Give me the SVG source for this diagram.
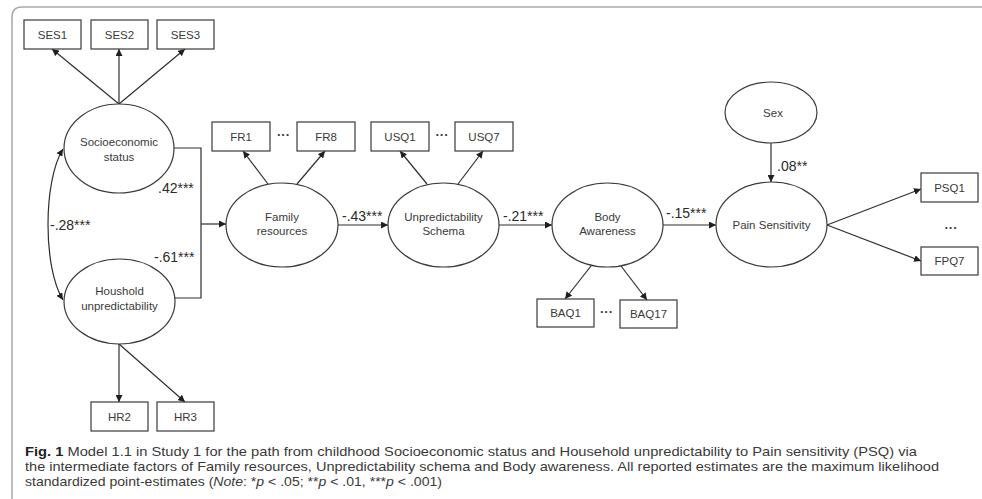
<svg xmlns="http://www.w3.org/2000/svg" width="982" height="499" viewBox="0 0 982 499">
  <style>
    .node ellipse, .node rect { fill: #fff; stroke: #3a3a3a; stroke-width: 1.2; }
    .lbl { font-family: "Liberation Sans", Arial, sans-serif; font-size: 11.5px; fill: #3a3a3a; text-anchor: middle; }
    .dots { font-family: "Liberation Sans", Arial, sans-serif; font-size: 13px; font-weight: bold; fill: #3a3a3a; text-anchor: middle; }
    .coef { font-family: "Liberation Sans", Arial, sans-serif; font-size: 14px; fill: #2a2a2a; }
    .edge { fill: none; stroke: #2e2e2e; stroke-width: 1.2; }
    .cap { font-family: "Liberation Sans", Arial, sans-serif; font-size: 13px; fill: #3a3a3a; }
  </style>
  <defs>
    <marker id="arrow" viewBox="0 0 10 10" refX="10" refY="5" markerWidth="7" markerHeight="7" markerUnits="userSpaceOnUse" orient="auto-start-reverse">
      <path d="M0,0 L10,5 L0,10 z" fill="#1f1f1f"/>
    </marker>
  </defs>

  <rect width="982" height="499" fill="#fff"/>
  <!-- figure frame -->
  <path d="M12,499 V17 Q12,7 22,7 H982" fill="none" stroke="#a8a8a8" stroke-width="1.5"/>

  <!-- connectors -->
  <g id="connectors">
    <path class="edge" marker-end="url(#arrow)" d="M119,104 L52,49"/>
    <path class="edge" marker-end="url(#arrow)" d="M119,104 L119,49"/>
    <path class="edge" marker-end="url(#arrow)" d="M119,104 L185,49"/>
    <path class="edge" marker-end="url(#arrow)" d="M119,344 L119,402"/>
    <path class="edge" marker-end="url(#arrow)" d="M119,344 L185,402"/>
    <path class="edge" marker-start="url(#arrow)" marker-end="url(#arrow)" d="M63,300 C43,268 43,181 63,149"/>
    <path class="edge" d="M174,148 H201 V298 H175"/>
    <path class="edge" marker-end="url(#arrow)" d="M201,224 H226"/>
    <path class="edge" marker-end="url(#arrow)" d="M268,184 L243,151"/>
    <path class="edge" marker-end="url(#arrow)" d="M297,184 L325,151"/>
    <path class="edge" marker-end="url(#arrow)" d="M338,225 H388"/>
    <path class="edge" marker-end="url(#arrow)" d="M427,184 L400,151"/>
    <path class="edge" marker-end="url(#arrow)" d="M458,184 L483,151"/>
    <path class="edge" marker-end="url(#arrow)" d="M499,225 H552"/>
    <path class="edge" marker-end="url(#arrow)" d="M591,266 L565,299"/>
    <path class="edge" marker-end="url(#arrow)" d="M621,266 L647,300"/>
    <path class="edge" marker-end="url(#arrow)" d="M663,225 H716"/>
    <path class="edge" marker-end="url(#arrow)" d="M771,143 V182"/>
    <path class="edge" marker-end="url(#arrow)" d="M827,225 L921,189"/>
    <path class="edge" marker-end="url(#arrow)" d="M827,225 L921,261"/>

    <text class="coef" x="158" y="193">.42***</text>
    <text class="coef" x="154" y="262">-.61***</text>
    <text class="coef" x="50" y="230">-.28***</text>
    <text class="coef" x="342" y="221">-.43***</text>
    <text class="coef" x="503" y="221">-.21***</text>
    <text class="coef" x="666" y="218">-.15***</text>
    <text class="coef" x="777" y="171">.08**</text>
  </g>

  <!-- observed indicators -->
  <g id="ses1" class="node"><rect x="24" y="20" width="57" height="29"/><text class="lbl" x="52.5" y="39">SES1</text></g>
  <g id="ses2" class="node"><rect x="91" y="20" width="57" height="29"/><text class="lbl" x="119.5" y="39">SES2</text></g>
  <g id="ses3" class="node"><rect x="157" y="20" width="57" height="29"/><text class="lbl" x="185.5" y="39">SES3</text></g>
  <g id="hr2" class="node"><rect x="91" y="402" width="57" height="29"/><text class="lbl" x="119.5" y="421">HR2</text></g>
  <g id="hr3" class="node"><rect x="157" y="402" width="57" height="29"/><text class="lbl" x="185.5" y="421">HR3</text></g>
  <g id="fr1" class="node"><rect x="212" y="122" width="58" height="29"/><text class="lbl" x="241" y="141">FR1</text></g>
  <g id="fr8" class="node"><rect x="297" y="122" width="58" height="29"/><text class="lbl" x="326" y="141">FR8</text></g>
  <text class="dots" x="283.5" y="139">···</text>
  <g id="usq1" class="node"><rect x="371" y="122" width="58" height="29"/><text class="lbl" x="400" y="141">USQ1</text></g>
  <g id="usq7" class="node"><rect x="455" y="122" width="58" height="29"/><text class="lbl" x="484" y="141">USQ7</text></g>
  <text class="dots" x="442" y="139">···</text>
  <g id="baq1" class="node"><rect x="537" y="299" width="57" height="28"/><text class="lbl" x="565.5" y="317">BAQ1</text></g>
  <g id="baq17" class="node"><rect x="620" y="300" width="57" height="28"/><text class="lbl" x="648.5" y="318">BAQ17</text></g>
  <text class="dots" x="606.5" y="316">···</text>
  <g id="psq1" class="node"><rect x="921" y="173" width="57" height="29"/><text class="lbl" x="949.5" y="192">PSQ1</text></g>
  <g id="fpq7" class="node"><rect x="921" y="247" width="57" height="28"/><text class="lbl" x="949.5" y="265">FPQ7</text></g>
  <text class="dots" x="951" y="232" font-weight="normal">···</text>

  <!-- latent factors -->
  <g id="socioeconomic-status" class="node"><ellipse cx="119" cy="148.5" rx="55" ry="44.5"/><text class="lbl" x="119" y="146">Socioeconomic</text><text class="lbl" x="119" y="161">status</text></g>
  <g id="household-unpredictability" class="node"><ellipse cx="119.5" cy="301.5" rx="55.5" ry="42.5"/><text class="lbl" x="119.5" y="295">Houshold</text><text class="lbl" x="119.5" y="310">unpredictability</text></g>
  <g id="family-resources" class="node"><ellipse cx="282" cy="225" rx="56" ry="42"/><text class="lbl" x="282" y="221">Family</text><text class="lbl" x="282" y="235">resources</text></g>
  <g id="unpredictability-schema" class="node"><ellipse cx="443.5" cy="225" rx="55.5" ry="42"/><text class="lbl" x="443.5" y="221">Unpredictability</text><text class="lbl" x="443.5" y="235">Schema</text></g>
  <g id="body-awareness" class="node"><ellipse cx="607.5" cy="225" rx="55.5" ry="42"/><text class="lbl" x="607.5" y="221">Body</text><text class="lbl" x="607.5" y="235">Awareness</text></g>
  <g id="pain-sensitivity" class="node"><ellipse cx="771.5" cy="224.5" rx="55.5" ry="42.5"/><text class="lbl" x="771.5" y="229">Pain Sensitivity</text></g>
  <g id="sex" class="node"><ellipse cx="771" cy="112.5" rx="46" ry="30.5"/><text class="lbl" x="773" y="117">Sex</text></g>

  <!-- caption -->
  <g id="caption">
    <text class="cap" x="25" y="456" textLength="892" lengthAdjust="spacingAndGlyphs"><tspan font-weight="bold" fill="#222">Fig. 1</tspan>  Model 1.1 in Study 1 for the path from childhood Socioeconomic status and Household unpredictability to Pain sensitivity (PSQ) via</text>
    <text class="cap" x="25" y="471" textLength="914" lengthAdjust="spacingAndGlyphs">the intermediate factors of Family resources, Unpredictability schema and Body awareness. All reported estimates are the maximum likelihood</text>
    <text class="cap" x="25" y="486" textLength="417" lengthAdjust="spacingAndGlyphs">standardized point-estimates (<tspan font-style="italic">Note</tspan>: *<tspan font-style="italic">p</tspan> &lt; .05; **<tspan font-style="italic">p</tspan> &lt; .01, ***<tspan font-style="italic">p</tspan> &lt; .001)</text>
  </g>
</svg>
